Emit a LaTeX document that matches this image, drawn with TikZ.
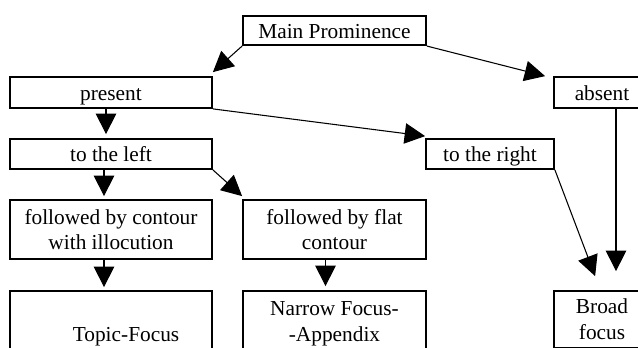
\documentclass[tikz,border=0pt]{standalone}
\usepackage{fontspec}
\setmainfont{Liberation Serif}
\usetikzlibrary{arrows.meta,calc}
\begin{document}
\begin{tikzpicture}[x=0.5625pt,y=-0.5625pt,
  box/.style={draw,line width=1pt,inner sep=0pt,font=\fontsize{12}{14.5}\selectfont,align=center},
  one/.style={text height=12.5pt,text depth=4pt},
  arr/.style={line width=0.6pt,-{Triangle[length=11.5pt,width=11.5pt]}}]
\useasboundingbox (0,0) rectangle (638,347);
\clip (0,0) rectangle (638,347);
\fill[white] (0,0) rectangle (638,347);
% boxes
\node[box,one,minimum width={183*0.5625pt},minimum height={29*0.5625pt}] (main) at (334.5,30.5) {Main Prominence};
\node[box,one,minimum width={202*0.5625pt},minimum height={31*0.5625pt}] (present) at (111,92.5) {present};
\node[box,one,minimum width={96*0.5625pt},minimum height={31*0.5625pt}] (absent) at (602,92.5) {absent};
\node[box,one,minimum width={202*0.5625pt},minimum height={30*0.5625pt}] (toleft) at (111,154) {to the left};
\node[box,one,minimum width={128*0.5625pt},minimum height={30*0.5625pt}] (toright) at (490,154) {to the right};
\node[box,minimum width={202*0.5625pt},minimum height={59*0.5625pt}] (fbc) at (111,229.5) {followed by contour\\with illocution};
\node[box,minimum width={183*0.5625pt},minimum height={59*0.5625pt}] (fbf) at (334.5,229.5) {followed by flat\\contour};
\node[box,minimum width={202*0.5625pt},minimum height={92*0.5625pt}] (topic) at (111,337) {\hspace*{16.9pt}Topic-Focus};
\node[box,minimum width={183*0.5625pt},minimum height={66*0.5625pt}] (narrow) at (334.5,324) {Narrow Focus-\\-Appendix};
\node[box,minimum width={96*0.5625pt},minimum height={57*0.5625pt}] (broad) at (602,319.5) {Broad\\focus};
% connectors
\draw[arr] (main.south west) -- ($(present.north east)+(0,-4)$);
\draw[arr] (main.south east) -- ($(absent.north west)+(-8,0)$);
\draw[arr] (present.south east) -- ($(toright.north west)+(0,-2)$);
\draw[arr] ($(present.south)+(-5,0)$) -- ($(toleft.north)+(-5,-4)$);
\draw[arr] ($(toleft.south)+(-7,0)$) -- ($(fbc.north)+(-7,-3)$);
\draw[arr] (toleft.south east) -- ($(fbf.north west)+(0,-3)$);
\draw[arr] ($(fbc.south)+(-7,0)$) -- ($(topic.north)+(-7,-3)$);
\draw[arr] ($(fbf.south)+(-9,0)$) -- ($(narrow.north)+(-9,-4)$);
\draw[arr] (toright.south east) -- ($(broad.north west)+(42,-14)$);
\draw[arr] ($(absent.south)+(14,0)$) -- ($(broad.north)+(14,-19)$);
\end{tikzpicture}
\end{document}
